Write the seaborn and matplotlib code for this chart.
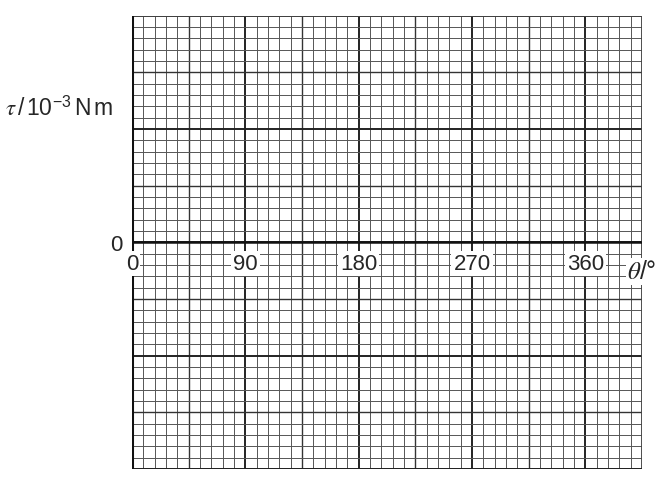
import numpy as np
import matplotlib
matplotlib.use("Agg")
import matplotlib.pyplot as plt
import seaborn as sns

x_max = 405          # degrees shown on the theta axis
y_min, y_max = -2, 2 # torque grid units (unlabelled)
x_ticks = [0, 90, 180, 270, 360]
x_tick_labels = ["0", "90", "180", "270", "360"]
y_ticks = [0]
y_tick_labels = ["0"]

sns.set_style("white")
plt.rcParams["font.family"] = ["Liberation Sans", "DejaVu Sans"]
plt.rcParams["mathtext.fontset"] = "custom"
plt.rcParams["mathtext.rm"] = "Liberation Sans"
plt.rcParams["mathtext.it"] = "STIXGeneral:italic"

fig = plt.figure(figsize=(6.56, 4.89), dpi=100)
ax = fig.add_axes([132 / 656, 1 - 470 / 489, 510 / 656, 453.5 / 489])
ax.set_xlim(0, x_max)
ax.set_ylim(y_min, y_max)
for s in ax.spines.values():
    s.set_visible(False)

# graph-paper grid: minor every 9 deg / 0.1, medium every 45 / 0.5, major every 90 / 1
for i in range(x_max // 9 + 1):
    x = i * 9
    if i % 10 == 0:
        lw, c = 1.4, "#222222"
    elif i % 5 == 0:
        lw, c = 1.0, "#333333"
    else:
        lw, c = 0.7, "#555555"
    ax.axvline(x, color=c, lw=lw, zorder=1)
for j in range(int((y_max - y_min) * 10) + 1):
    y = y_min + j * 0.1
    if j % 10 == 0:
        lw, c = 1.4, "#222222"
    elif j % 5 == 0:
        lw, c = 1.0, "#333333"
    else:
        lw, c = 0.7, "#555555"
    ax.axhline(y, color=c, lw=lw, zorder=1)

# frame and axes
ax.axhline(y_max, color="#444444", lw=1.3, zorder=2)
ax.axvline(x_max, color="#444444", lw=1.3, zorder=2)
ax.axhline(y_min, color="#222222", lw=2.0, zorder=2)
ax.axvline(0, color="#111111", lw=2.2, zorder=2)
ax.axhline(0, color="#111111", lw=1.8, zorder=2)

ax.set_axisbelow(False)
ax.spines["bottom"].set_position(("data", 0))
ax.set_xticks(x_ticks)
ax.set_xticklabels(x_tick_labels, fontsize=16)
ax.set_yticks(y_ticks)
ax.set_yticklabels(y_tick_labels, fontsize=16)
ax.tick_params(axis="x", length=0, pad=8)
ax.tick_params(axis="y", length=5, width=1.6, color="#111111", pad=2, direction="out")
for lbl in ax.get_xticklabels():
    lbl.set_bbox(dict(facecolor="white", edgecolor="none", pad=1.5))

fig.text(627 / 656, 1 - 272 / 489, r"$\theta$/°", fontsize=18, ha="left", va="center",
         bbox=dict(facecolor="white", edgecolor="none", pad=1))
fig.text(113 / 656, 1 - 109 / 489, r"$\tau\,/\,$10$^{-3}\,$N$\,$m", fontsize=16.5,
         ha="right", va="center")

fig.savefig("out.png", dpi=100)
